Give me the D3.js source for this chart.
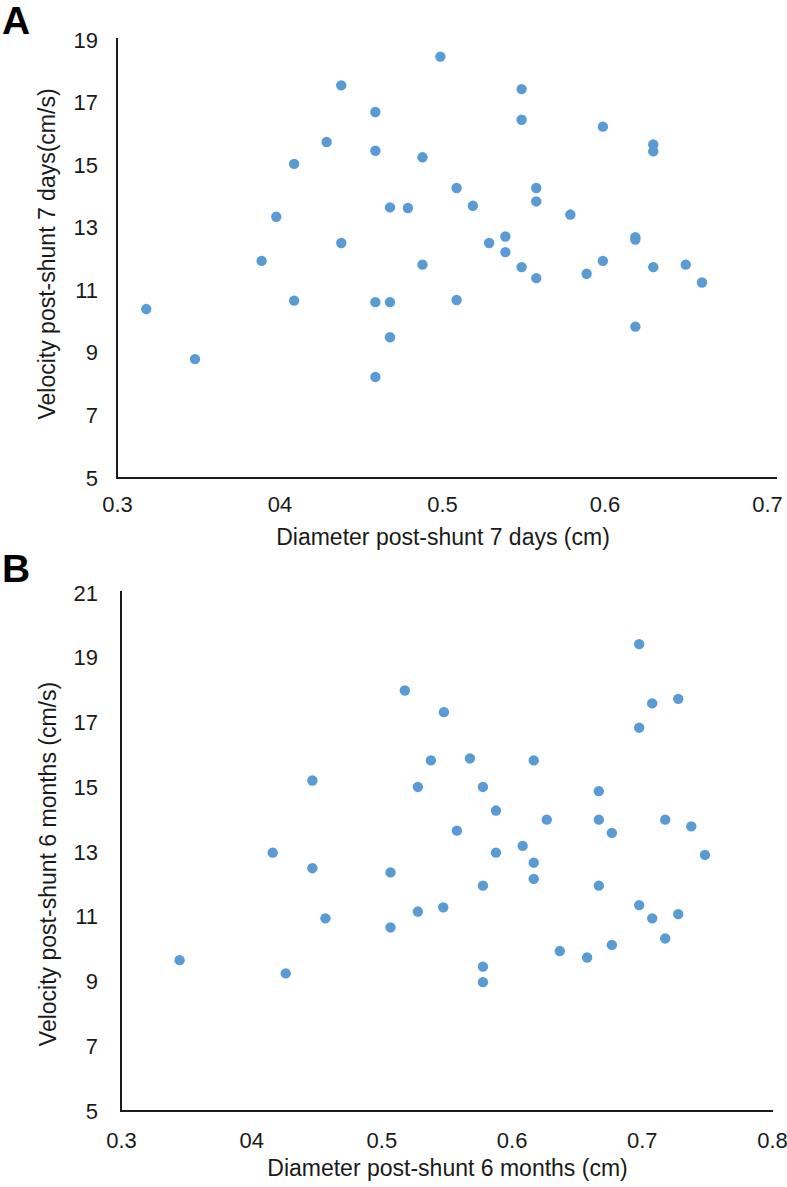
<!DOCTYPE html>
<html>
<head>
<meta charset="utf-8">
<script src="https://cdn.jsdelivr.net/npm/d3@7"></script>
<style>
  body { margin: 0; background: #fff; }
  svg { display: block; font-family: "Liberation Sans", Arial, sans-serif; }
</style>
</head>
<body>
<svg id="chart" width="787" height="1187"></svg>
<script>
// ---------- Panel A data (7 days) ----------
const diameterA = [0.318,0.348,0.389,0.398,0.409,0.409,0.429,0.438,0.438,0.459,0.459,0.459,0.459,
  0.468,0.468,0.468,0.479,0.488,0.488,0.499,0.509,0.509,0.519,0.529,0.539,0.539,0.549,0.549,0.549,
  0.558,0.558,0.558,0.579,0.589,0.599,0.599,0.619,0.619,0.619,0.630,0.630,0.630,0.650,0.660];
const velocityA = [10.40,8.80,11.94,13.35,15.04,10.67,15.74,17.55,12.51,16.70,15.46,10.62,8.23,
  13.65,10.62,9.50,13.63,15.25,11.82,18.47,14.27,10.69,13.70,12.51,12.72,12.22,17.43,16.45,11.74,
  14.27,13.84,11.39,13.42,11.53,16.23,11.94,12.70,12.62,9.84,15.66,15.44,11.74,11.82,11.25];
const xTicksA = [0.3,0.4,0.5,0.6,0.7];
const xTickLabelsA = ["0.3","04","0.5","0.6","0.7"];
const yTicksA = [5,7,9,11,13,15,17,19];

// ---------- Panel B data (6 months) ----------
const diameterB = [0.345,0.4165,0.4265,0.447,0.447,0.457,0.507,0.507,0.518,0.528,0.528,0.538,0.5475,
  0.548,0.558,0.568,0.578,0.578,0.578,0.578,0.588,0.588,0.6085,0.617,0.617,0.617,0.627,0.637,0.658,
  0.667,0.667,0.667,0.677,0.677,0.698,0.698,0.698,0.708,0.708,0.718,0.718,0.728,0.728,0.738,0.7485];
const velocityB = [9.66,12.98,9.25,15.21,12.50,10.95,12.37,10.67,17.99,15.01,11.16,15.83,11.29,
  17.32,13.66,15.89,15.01,11.96,9.46,8.98,14.28,12.98,13.19,15.83,12.67,12.17,14.00,9.94,9.74,
  14.88,14.00,11.96,13.59,10.13,19.42,16.84,11.36,17.59,10.95,14.00,10.33,17.73,11.08,13.79,12.91];
const xTicksB = [0.3,0.4,0.5,0.6,0.7,0.8];
const xTickLabelsB = ["0.3","04","0.5","0.6","0.7","0.8"];
const yTicksB = [5,7,9,11,13,15,17,19,21];

const svg = d3.select("#chart");
const dotColor = "#5B9BD5";

function panel(cfg) {
  const g = svg.append("g");
  const x = d3.scaleLinear().domain(cfg.xDomain).range(cfg.xRange);
  const y = d3.scaleLinear().domain(cfg.yDomain).range(cfg.yRange);

  // axes (no tick marks)
  const xAxis = d3.axisBottom(x).tickValues(cfg.xTicks)
    .tickFormat((d, i) => cfg.xLabels[i]).tickSize(0).tickPadding(cfg.xPad);
  const gx = g.append("g").attr("transform", `translate(0,${cfg.yRange[0]})`).call(xAxis);
  gx.select(".domain").remove();
  gx.selectAll("text").attr("font-size", 22).attr("fill", "#1a1a1a")
    .attr("font-family", "Liberation Sans, Arial, sans-serif");

  const yAxis = d3.axisLeft(y).tickValues(cfg.yTicks).tickSize(0).tickPadding(cfg.yPad);
  const gy = g.append("g").attr("transform", `translate(${cfg.xRange[0]},0)`).call(yAxis);
  gy.select(".domain").remove();
  gy.selectAll("text").attr("font-size", 22).attr("fill", "#1a1a1a")
    .attr("font-family", "Liberation Sans, Arial, sans-serif");

  // axis lines
  g.append("line")
    .attr("x1", cfg.xRange[0]).attr("x2", cfg.xRange[1] + cfg.xExtend)
    .attr("y1", cfg.yRange[0]).attr("y2", cfg.yRange[0])
    .attr("stroke", "#1a1a1a").attr("stroke-width", 2);
  g.append("line")
    .attr("x1", cfg.xRange[0]).attr("x2", cfg.xRange[0])
    .attr("y1", cfg.yRange[0] + 1).attr("y2", cfg.yRange[1] - 2)
    .attr("stroke", "#1a1a1a").attr("stroke-width", 2);

  // points
  const data = cfg.xs.map((d, i) => ({ x: d, y: cfg.ys[i] }));
  g.selectAll("circle").data(data).enter().append("circle")
    .attr("cx", d => x(d.x)).attr("cy", d => y(d.y))
    .attr("r", 5.2).attr("fill", dotColor);

  // axis titles
  g.append("text")
    .attr("x", (cfg.xRange[0] + cfg.xRange[1]) / 2 + 1)
    .attr("y", cfg.xTitleY)
    .attr("text-anchor", "middle").attr("font-size", 23).attr("fill", "#1a1a1a")
    .text(cfg.xTitle);
  g.append("text")
    .attr("transform", `translate(${cfg.yTitleX},${cfg.yTitleCY}) rotate(-90)`)
    .attr("text-anchor", "middle").attr("dy", "0.35em")
    .attr("font-size", 23).attr("fill", "#1a1a1a")
    .text(cfg.yTitle);

  // panel label
  g.append("text")
    .attr("x", 2).attr("y", cfg.labelY)
    .attr("font-size", 39).attr("font-weight", "bold").attr("fill", "#000")
    .text(cfg.label);
}

panel({
  label: "A", labelY: 34,
  xs: diameterA, ys: velocityA,
  xDomain: [0.3, 0.7], xRange: [117, 767], xExtend: 10,
  yDomain: [5, 19], yRange: [478, 40],
  xTicks: xTicksA, xLabels: xTickLabelsA, yTicks: yTicksA,
  xPad: 18, yPad: 19,
  xTitle: "Diameter post-shunt 7 days (cm)", xTitleY: 545,
  yTitle: "Velocity post-shunt 7 days(cm/s)", yTitleX: 47, yTitleCY: 254
});

panel({
  label: "B", labelY: 582,
  xs: diameterB, ys: velocityB,
  xDomain: [0.3, 0.8], xRange: [121, 772], xExtend: 1,
  yDomain: [5, 21], yRange: [1111, 593],
  xTicks: xTicksB, xLabels: xTickLabelsB, yTicks: yTicksB,
  xPad: 21, yPad: 23,
  xTitle: "Diameter post-shunt 6 months (cm)", xTitleY: 1176,
  yTitle: "Velocity post-shunt 6 months (cm/s)", yTitleX: 48, yTitleCY: 864
});
</script>
</body>
</html>
